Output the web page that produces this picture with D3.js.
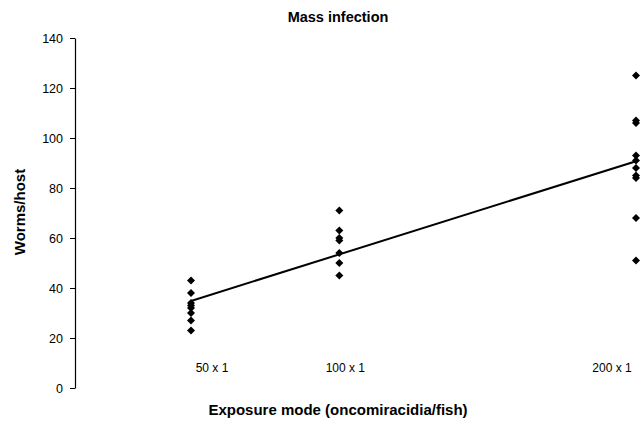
<!DOCTYPE html>
<html>
<head>
<meta charset="utf-8">
<script src="https://cdn.jsdelivr.net/npm/d3@7"></script>
<style>
  body { margin: 0; background: #fff; }
  text { font-family: "Liberation Sans", Arial, sans-serif; fill: #000; }
</style>
</head>
<body>
<div id="canvas"></div>
<script>
// exposure doses (oncomiracidia per fish) and the worms counted per host
var doses = [50, 100, 200];
var doseLabels = ["50 x 1", "100 x 1", "200 x 1"];
var worms50 = [43, 38, 34, 33, 32, 30, 27, 23];
var worms100 = [71, 63, 60, 59, 54, 50, 45];
var worms200 = [125, 107, 106, 93, 91, 88, 85, 84, 68, 51];
var yTicks = [0, 20, 40, 60, 80, 100, 120, 140];

var width = 642, height = 423;

var svg = d3.select("#canvas").append("svg")
  .attr("width", width).attr("height", height);

var x = d3.scaleLinear().domain([50, 200]).range([191, 636]);
// the category labels sit on their own spacing in the original
var xLabel = d3.scaleLinear().domain([50, 200]).range([212, 612]);
var y = d3.scaleLinear().domain([0, 140]).range([388, 38]);

// flatten groups into points
var points = [];
[worms50, worms100, worms200].forEach(function(group, i) {
  group.forEach(function(v) { points.push({dose: doses[i], worms: v}); });
});

// least squares trend line
var mx = d3.mean(points, d => d.dose), my = d3.mean(points, d => d.worms);
var sxy = d3.sum(points, d => (d.dose - mx) * (d.worms - my));
var sxx = d3.sum(points, d => (d.dose - mx) * (d.dose - mx));
var slope = sxy / sxx, intercept = my - slope * mx;

// y axis
var yAxis = svg.append("g")
  .attr("transform", "translate(75,0)")
  .call(d3.axisLeft(y).tickValues(yTicks).tickSize(5).tickSizeOuter(0).tickPadding(7));
yAxis.select(".domain").attr("stroke", "#000").attr("stroke-width", 1.2);
yAxis.selectAll(".tick line").attr("stroke", "#000");
yAxis.selectAll(".tick text")
  .style("font-size", "12.5px")
  .style("font-family", "Liberation Sans, Arial, sans-serif");

// category labels
svg.selectAll("text.cat")
  .data(doses)
  .enter()
  .append("text")
  .attr("class", "cat")
  .attr("x", d => xLabel(d))
  .attr("y", 372)
  .style("text-anchor", "middle")
  .style("font-size", "12px")
  .text((d, i) => doseLabels[i]);

// trend line
svg.append("line")
  .attr("x1", x(doses[0]))
  .attr("y1", y(intercept + slope * doses[0]))
  .attr("x2", x(doses[2]))
  .attr("y2", y(intercept + slope * doses[2]))
  .attr("stroke", "#000")
  .attr("stroke-width", 2);

// diamonds
var diamond = d3.symbol().type(d3.symbolSquare).size(32);
svg.selectAll("path.pt")
  .data(points)
  .enter()
  .append("path")
  .attr("class", "pt")
  .attr("d", diamond)
  .attr("transform", d => `translate(${x(d.dose)},${y(d.worms)}) rotate(45)`)
  .attr("fill", "#000");

// titles
svg.append("text")
  .attr("x", 338).attr("y", 22)
  .style("text-anchor", "middle")
  .style("font-size", "14.5px").style("font-weight", "bold")
  .text("Mass infection");

svg.append("text")
  .attr("transform", "translate(25,212) rotate(-90)")
  .style("text-anchor", "middle")
  .style("font-size", "15px").style("font-weight", "bold")
  .text("Worms/host");

svg.append("text")
  .attr("x", 338).attr("y", 415)
  .style("text-anchor", "middle")
  .style("font-size", "15px").style("font-weight", "bold")
  .text("Exposure mode (oncomiracidia/fish)");
</script>
</body>
</html>
